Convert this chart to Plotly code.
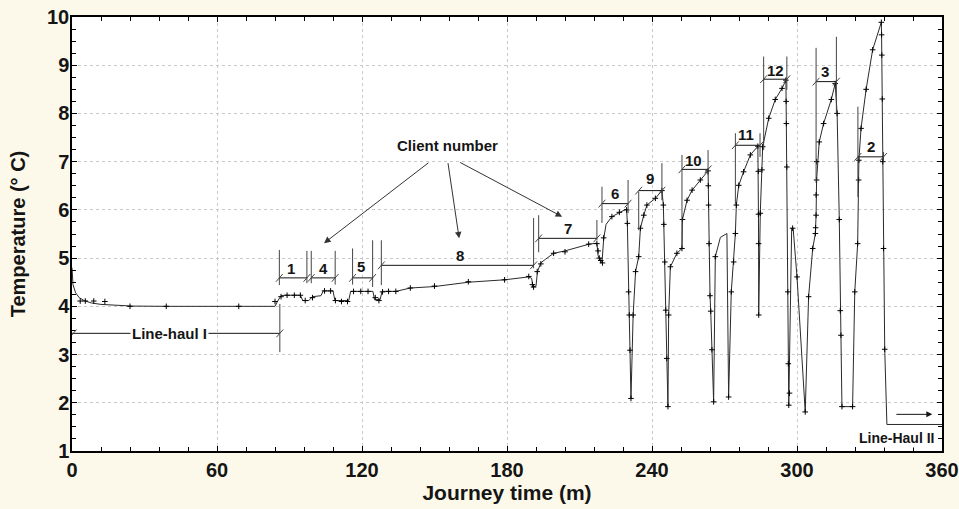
import plotly.graph_objects as go

# ---------------- data ----------------
curve_time = [0, 0.4, 1.5, 3, 5, 8, 12, 18, 25, 40, 60, 84,
              85, 86.5, 88, 94.5, 95.5, 98, 99.5, 103, 104, 108, 108.8, 114.5, 115.3, 124.5,
              125.2, 127.5, 128.3, 134, 140, 150, 164, 179, 189, 190.2, 190.8, 192, 192.6,
              194, 196, 199.3, 204, 210, 214, 217.2, 217.7, 218.5, 219.3, 220, 221, 223.4,
              226.5, 229.5, 229.8, 230.3, 230.6, 230.9, 231.3,
              232.2, 233.2, 234.5, 235.2, 236.6, 237.9, 241.4, 244.1,
              244.7, 244.9, 245.3, 245.7, 246.1, 246.6,
              246.9, 247.6, 250.3, 252.4, 252.6, 254.5, 256.6, 260, 263.2,
              263.3, 263.4, 263.6, 264, 264.3, 264.8, 265.5,
              266.2, 268.3, 271, 271.7,
              272.8, 273.8, 274.5, 274.9, 275.9, 277.9, 280.7, 283.8,
              284, 284.05, 284.1, 284.15,
              284.8, 285.5, 285.8, 288.3, 291, 293.8, 295.4,
              295.5, 295.6, 295.8, 296.2, 296.4, 296.6,
              297.8, 298.4, 300, 301.7, 303.4,
              304.8, 306.5, 307.6, 307.9, 308.1, 309.2, 311, 314.2, 315.8,
              316.6, 317.5, 317.9, 318.6, 323,
              323.9, 325.1, 325.5, 325.6, 326.5, 328.6, 331.3, 334.9,
              335, 335.1, 335.3, 335.5, 335.8, 336.3, 337.2, 360]
curve_temp = [4.8, 4.45, 4.28, 4.18, 4.12, 4.07, 4.04, 4.02, 4.005, 4.0, 4.0, 4.0,
              4.1, 4.22, 4.23, 4.23, 4.12, 4.12, 4.2, 4.22, 4.32, 4.32, 4.12, 4.12, 4.31, 4.31,
              4.14, 4.14, 4.31, 4.31, 4.38, 4.41, 4.5, 4.55, 4.61, 4.58, 4.4, 4.42, 4.72,
              4.9, 4.98, 5.1, 5.15, 5.24, 5.29, 5.31, 5.05, 4.95, 4.9, 5.4, 5.7, 5.86,
              5.95, 6.02, 5.72, 4.3, 3.8, 3.1, 2.09,
              3.82, 4.72, 5.03, 5.62, 5.89, 6.1, 6.24, 6.4,
              6.1, 5.7, 4.92, 3.92, 2.92, 1.92,
              3.82, 4.82, 5.1, 5.2, 5.8, 6.2, 6.41, 6.62, 6.81,
              6.5, 6.1, 5.3, 4.22, 3.9, 3.1, 2.02,
              5.03, 5.43, 5.51, 2.12,
              4.3, 4.92, 5.51, 6.1, 6.51, 6.79, 7.14, 7.32,
              6.8, 5.91, 5.3, 3.82,
              5.93, 6.83, 7.31, 7.9, 8.29, 8.52, 8.69,
              8.25, 7.79, 6.89, 4.3, 2.81, 1.95,
              5.62, 5.62, 4.61, 3.2, 1.81,
              4.2, 5.2, 5.51, 5.89, 6.62, 7.41, 7.79, 8.29, 8.62,
              8.0, 5.8, 3.91, 1.92, 1.92,
              4.3, 5.3, 6.62, 7.03, 7.69, 8.5, 9.32, 9.89,
              9.63, 9.21, 8.3, 7.0, 5.2, 3.11, 1.55, 1.55]

reading_time = [3.4, 5.5, 9, 13.6, 24, 39, 69, 84,
                86.5, 89, 92, 94.5, 96.5, 99.5, 104.5, 107, 109, 111.5, 114,
                116.5, 119.5, 122.5, 125.5, 127, 128.5,
                131, 134, 140, 150, 164, 179, 189, 190.5, 191, 192.5, 194,
                199.3, 204, 213.8, 217.2, 217.7, 218.2, 218.8, 219.5, 220, 223.4, 226.5,
                229.5, 229.8, 230.3, 230.6, 230.9, 231.3,
                232.2, 233.2, 234.5, 235.2, 236.6, 237.9, 241.4, 244.1,
                244.7, 244.9, 245.3, 245.7, 246.1, 246.6,
                246.9, 247.6, 250.3, 252.4, 252.6, 254.5, 256.6, 260, 263.2,
                263.3, 263.4, 263.6, 264, 264.3, 264.8, 265.5, 266.2, 271.7,
                272.8, 273.8, 274.5, 274.9, 275.9, 277.9, 280.7, 283.8,
                284, 284.05, 284.1, 284.15, 284.8, 285.5, 285.8,
                288.3, 291, 293.8, 295.4, 295.5, 295.6, 295.8, 296.2, 296.4, 296.6,
                296.9, 298.2, 300, 303.4,
                304.8, 306.5, 307.6, 307.7, 307.9, 307.9, 308.1, 308.1, 309.2, 311,
                314.2, 315.8, 316.6, 317.5, 317.9, 318.2, 318.6, 323,
                323.9, 325.1, 325.5, 325.6, 326.5, 328.6, 331.3, 334.9,
                335, 335.1, 335.3, 335.5, 335.8, 336.3]
reading_temp = [4.11, 4.11, 4.11, 4.1, 4.0, 4.0, 4.0, 4.1,
                4.2, 4.23, 4.23, 4.23, 4.12, 4.18, 4.32, 4.32, 4.12, 4.1, 4.1,
                4.31, 4.31, 4.31, 4.18, 4.12, 4.3,
                4.31, 4.31, 4.38, 4.42, 4.51, 4.55, 4.62, 4.45, 4.4, 4.72, 4.88,
                5.1, 5.13, 5.29, 5.3, 5.15, 5.0, 4.95, 4.9, 5.42, 5.86, 5.95,
                6.0, 5.72, 4.3, 3.82, 3.09, 2.09,
                3.82, 4.72, 5.03, 5.62, 5.89, 6.1, 6.24, 6.4,
                6.1, 5.7, 4.92, 3.92, 2.92, 1.92,
                3.82, 4.82, 5.1, 5.2, 5.8, 6.2, 6.41, 6.62, 6.81,
                6.5, 6.1, 5.3, 4.22, 3.9, 3.1, 2.02, 5.03, 2.12,
                4.3, 4.92, 5.51, 6.1, 6.51, 6.79, 7.14, 7.32,
                6.8, 5.91, 5.3, 3.82, 5.93, 6.83, 7.31,
                7.9, 8.29, 8.52, 8.69, 8.25, 7.79, 6.89, 4.3, 2.81, 1.95,
                2.2, 5.62, 4.61, 1.81,
                4.2, 5.2, 5.51, 5.63, 5.89, 6.31, 6.62, 7.0, 7.41, 7.79,
                8.29, 8.62, 8.0, 5.8, 3.91, 3.4, 1.92, 1.92,
                4.3, 5.3, 6.62, 7.03, 7.69, 8.5, 9.32, 9.89,
                9.63, 9.21, 8.3, 7.0, 5.2, 3.11]

x_ticks = [0, 60, 120, 180, 240, 300, 360]
y_ticks = [1, 2, 3, 4, 5, 6, 7, 8, 9, 10]

# client brackets: label, left t, right t, level, left vertical (lo, hi), right vertical (lo, hi), label position
client_labels = ["1", "4", "5", "8", "7", "6", "9", "10", "11", "12", "3", "2"]
client_left = [85.8, 99.0, 116.1, 128.0, 193.1, 219.3, 234.5, 252.4, 274.5, 286.2, 307.9, 325.2]
client_right = [97.2, 108.9, 124.4, 191.0, 217.2, 230.1, 244.1, 263.2, 284.7, 295.8, 316.3, 335.8]
client_level = [4.59, 4.59, 4.59, 4.85, 5.41, 6.13, 6.40, 6.84, 7.34, 8.71, 8.66, 7.10]
client_lv = [(4.44, 5.17), (4.48, 5.15), (4.45, 5.2), (4.44, 5.37), (5.12, 5.89), (5.73, 6.48),
             (5.58, 6.38), (5.23, 7.14), (6.1, 7.59), (7.24, 9.18), (6.56, 9.36), (6.27, 8.14)]
client_rv = [(4.48, 5.15), (4.45, 5.15), (4.40, 5.37), (4.79, 5.83), (5.37, 5.79), (5.93, 6.62),
             (6.2, 6.97), (6.72, 7.24), (7.10, 7.59), (8.49, 9.18), (8.0, 9.59), (7.0, 7.2)]
client_label_t = [90.6, 103.9, 119.6, 160.5, 205.2, 224.8, 239.3, 257.0, 278.9, 291.0, 311.4, 330.7]
client_label_T = [4.79, 4.79, 4.82, 5.06, 5.62, 6.35, 6.65, 7.03, 7.57, 8.90, 8.87, 7.31]

# ---------------- figure ----------------
INK = "#151515"
GRAY = "#444444"
PAPER = "#fdf9ea"
FONT = "Liberation Sans Narrow, Arial Narrow, Liberation Sans, Arial"
fig = go.Figure()

fig.add_trace(go.Scatter(x=curve_time, y=curve_temp, mode="lines",
                         line=dict(color="#2a2a2a", width=1), hoverinfo="skip", showlegend=False))
fig.add_trace(go.Scatter(x=reading_time, y=reading_temp, mode="markers",
                         marker=dict(symbol="cross-thin", size=4, line=dict(color="black", width=1)),
                         showlegend=False))

shapes = []
def seg(x0, y0, x1, y1, color=INK, w=1):
    shapes.append(dict(type="line", xref="x", yref="y", x0=x0, y0=y0, x1=x1, y1=y1,
                       line=dict(color=color, width=w)))

def slash(x, y):
    seg(x - 1.4, y - 0.08, x + 1.4, y + 0.08, color=GRAY, w=1)

annotations = []
for lab, xl, xr, lv, (a0, a1), (b0, b1), lt, lT in zip(client_labels, client_left, client_right,
                                                       client_level, client_lv, client_rv,
                                                       client_label_t, client_label_T):
    seg(xl, a0, xl, a1, color=GRAY)
    seg(xr, b0, xr, b1, color=GRAY)
    seg(xl, lv, xr, lv)
    slash(xl, lv)
    slash(xr, lv)
    annotations.append(dict(x=lt, y=lT, text="<b>%s</b>" % lab, showarrow=False,
                            font=dict(family="Liberation Sans, Arial", size=15, color=INK)))

# Line-haul I bracket
seg(0, 3.44, 86, 3.44)
seg(86, 3.05, 86, 4.05, color=GRAY)
slash(0.5, 3.44)
slash(86, 3.44)
annotations.append(dict(x=40.5, y=3.44, text="<b>Line-haul I</b>", showarrow=False, bgcolor="white",
                        font=dict(family="Liberation Sans, Arial", size=15, color=INK)))

# Line-Haul II
annotations.append(dict(x=356.0, y=1.76, ax=340.5, ay=1.76, axref="x", ayref="y", xref="x", yref="y",
                        text="", showarrow=True, arrowhead=2, arrowsize=1.2, arrowwidth=1,
                        arrowcolor=INK, standoff=0))
annotations.append(dict(x=341.0, y=1.28, text="<b>Line-Haul II</b>", showarrow=False, bgcolor="white",
                        font=dict(family="Liberation Sans, Arial", size=14, color=INK)))

# Client number callout
annotations.append(dict(x=155.2, y=7.34, text="<b>Client number</b>", showarrow=False,
                        font=dict(family="Liberation Sans, Arial", size=15, color=INK)))
for (hx, hy, tx, ty) in [(104.3, 5.31, 148.1, 7.0), (160.2, 5.41, 155.5, 7.0), (202.8, 5.86, 160.0, 7.0)]:
    annotations.append(dict(x=hx, y=hy, ax=tx, ay=ty, axref="x", ayref="y", xref="x", yref="y",
                            text="", showarrow=True, arrowhead=2, arrowsize=1.3, arrowwidth=1,
                            arrowcolor="#333333", standoff=0))

axis_common = dict(showline=True, linecolor="black", linewidth=1.5, mirror="ticks",
                   ticks="inside", ticklen=5, tickcolor="black", automargin=False,
                   ticklabeloverflow="allow",
                   showgrid=True, gridcolor="#c9c9c9", griddash="dot", gridwidth=1,
                   zeroline=False,
                   tickfont=dict(family=FONT, size=20, color=INK, weight="bold"))

fig.update_layout(
    width=959, height=509,
    margin=dict(l=72, r=17, t=17, b=58),
    paper_bgcolor=PAPER,
    plot_bgcolor="white",
    shapes=shapes,
    annotations=annotations,
    xaxis=dict(range=[0, 360], tickvals=x_ticks, ticktext=[str(v) for v in x_ticks],
               minor=dict(dtick=12, ticks="inside", ticklen=4, tickcolor="black", showgrid=False),
               title=dict(text="Journey time (m)", standoff=2,
                          font=dict(family=FONT, size=21, color=INK, weight="bold")),
               **axis_common),
    yaxis=dict(range=[1, 10], tickvals=y_ticks, ticktext=[str(v) for v in y_ticks],
               minor=dict(dtick=0.25, ticks="inside", ticklen=4, tickcolor="black", showgrid=False),
               ticklabelstandoff=-3,
               title=dict(text="Temperature (° C)", standoff=16,
                          font=dict(family="Liberation Sans, Arial", size=20, color=INK, weight="bold")),
               **axis_common),
)

# remove the page's default body margin so the 959x509 figure fills the window exactly
fig.write_html("out.html",
               config={"displayModeBar": False},
               post_script="document.body.style.margin='0px';"
                           "document.body.style.overflow='hidden';"
                           "document.body.style.background='%s';" % PAPER)
